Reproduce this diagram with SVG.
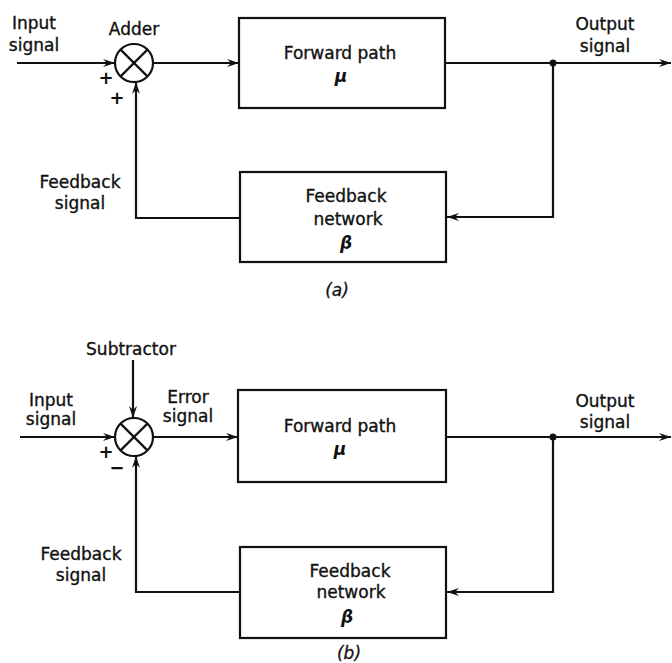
<svg xmlns="http://www.w3.org/2000/svg" width="672" height="663" viewBox="0 0 672 663">
<style>
  .t { font-family: "DejaVu Sans", "Liberation Sans", sans-serif; font-size: 17px; fill: #111; stroke: #111; stroke-width: 0.35; text-anchor: middle; }
  .g { font-family: "DejaVu Sans", "Liberation Sans", sans-serif; font-size: 17px; font-weight: bold; font-style: italic; fill: #111; text-anchor: middle; }
  .sign { font-family: "DejaVu Sans", "Liberation Sans", sans-serif; font-size: 18px; font-weight: bold; fill: #111; text-anchor: middle; }
  .cap { font-family: "DejaVu Sans", "Liberation Sans", sans-serif; font-size: 17px; font-style: italic; fill: #111; stroke: #111; stroke-width: 0.3; text-anchor: middle; }
  .box { fill: #fff; stroke: #111; stroke-width: 2.2; }
  .ln { fill: none; stroke: #111; stroke-width: 2.2; }
  .arr { fill: none; stroke: #111; stroke-width: 2.2; marker-end: url(#ah); }
</style>
<defs>
  <marker id="ah" viewBox="0 0 12 8" refX="12" refY="4" markerWidth="12" markerHeight="8" markerUnits="userSpaceOnUse" orient="auto">
    <path d="M0,0 L12,4 L0,8 L4,4 z" fill="#111"/>
  </marker>
</defs>
<rect width="672" height="663" fill="#fff"/>

<!-- (a) -->
<g id="a-input-label">
  <text class="t" x="34" y="29">Input</text>
  <text class="t" x="34" y="51">signal</text>
</g>
<g id="a-adder">
  <circle cx="134" cy="63" r="19" class="ln" fill="#fff"/>
  <line x1="120.6" y1="49.6" x2="147.4" y2="76.4" class="ln"/>
  <line x1="147.4" y1="49.6" x2="120.6" y2="76.4" class="ln"/>
  <text class="t" x="134" y="35">Adder</text>
  <text class="sign" x="106" y="84">+</text>
  <text class="sign" x="117" y="104">+</text>
</g>
<g id="a-forward">
  <rect x="239" y="18" width="206" height="90" class="box"/>
  <text class="t" x="340" y="59">Forward path</text>
  <text class="g" x="341" y="82">μ</text>
</g>
<g id="a-output-label">
  <text class="t" x="605" y="30">Output</text>
  <text class="t" x="605" y="52">signal</text>
</g>
<g id="a-feedback">
  <rect x="240" y="172" width="206" height="90" class="box"/>
  <text class="t" x="346" y="202">Feedback</text>
  <text class="t" x="348" y="225">network</text>
  <text class="g" x="346" y="249">β</text>
</g>
<g id="a-feedback-label">
  <text class="t" x="80" y="188">Feedback</text>
  <text class="t" x="80" y="209">signal</text>
</g>
<text class="cap" x="337" y="296">(a)</text>

<!-- (b) -->
<g id="b-input-label">
  <text class="t" x="51" y="406">Input</text>
  <text class="t" x="51" y="425">signal</text>
</g>
<g id="b-subtractor">
  <circle cx="134" cy="437" r="19" class="ln" fill="#fff"/>
  <line x1="120.6" y1="423.6" x2="147.4" y2="450.4" class="ln"/>
  <line x1="147.4" y1="423.6" x2="120.6" y2="450.4" class="ln"/>
  <text class="t" x="131" y="355">Subtractor</text>
  <text class="sign" x="106" y="458">+</text>
  <text class="sign" x="117" y="474">−</text>
</g>
<g id="b-error-label">
  <text class="t" x="188" y="403">Error</text>
  <text class="t" x="188" y="422">signal</text>
</g>
<g id="b-forward">
  <rect x="238" y="390" width="208" height="92" class="box"/>
  <text class="t" x="340" y="432">Forward path</text>
  <text class="g" x="340" y="455">μ</text>
</g>
<g id="b-output-label">
  <text class="t" x="605" y="407">Output</text>
  <text class="t" x="605" y="428">signal</text>
</g>
<g id="b-feedback">
  <rect x="240" y="547" width="206" height="91" class="box"/>
  <text class="t" x="350" y="577">Feedback</text>
  <text class="t" x="351" y="598">network</text>
  <text class="g" x="347" y="623">β</text>
</g>
<g id="b-feedback-label">
  <text class="t" x="81" y="560">Feedback</text>
  <text class="t" x="81" y="581">signal</text>
</g>
<text class="cap" x="349" y="659">(b)</text>

<g id="connectors">
  <!-- (a) -->
  <line x1="17" y1="63" x2="115" y2="63" class="arr"/>
  <line x1="153" y1="63" x2="239" y2="63" class="arr"/>
  <line x1="445" y1="63" x2="671" y2="63" class="arr"/>
  <circle cx="553" cy="63" r="3.5" fill="#111"/>
  <polyline points="553,63 553,217 447,217" class="arr"/>
  <polyline points="240,218 136,218 136,82" class="arr"/>
  <!-- (b) -->
  <line x1="133" y1="360" x2="133" y2="418" class="arr"/>
  <line x1="20" y1="437" x2="115" y2="437" class="arr"/>
  <line x1="153" y1="437" x2="238" y2="437" class="arr"/>
  <line x1="446" y1="437" x2="671" y2="437" class="arr"/>
  <circle cx="553" cy="437" r="3.5" fill="#111"/>
  <polyline points="553,437 553,592 447,592" class="arr"/>
  <polyline points="240,592 136,592 136,456" class="arr"/>
</g>
</svg>
